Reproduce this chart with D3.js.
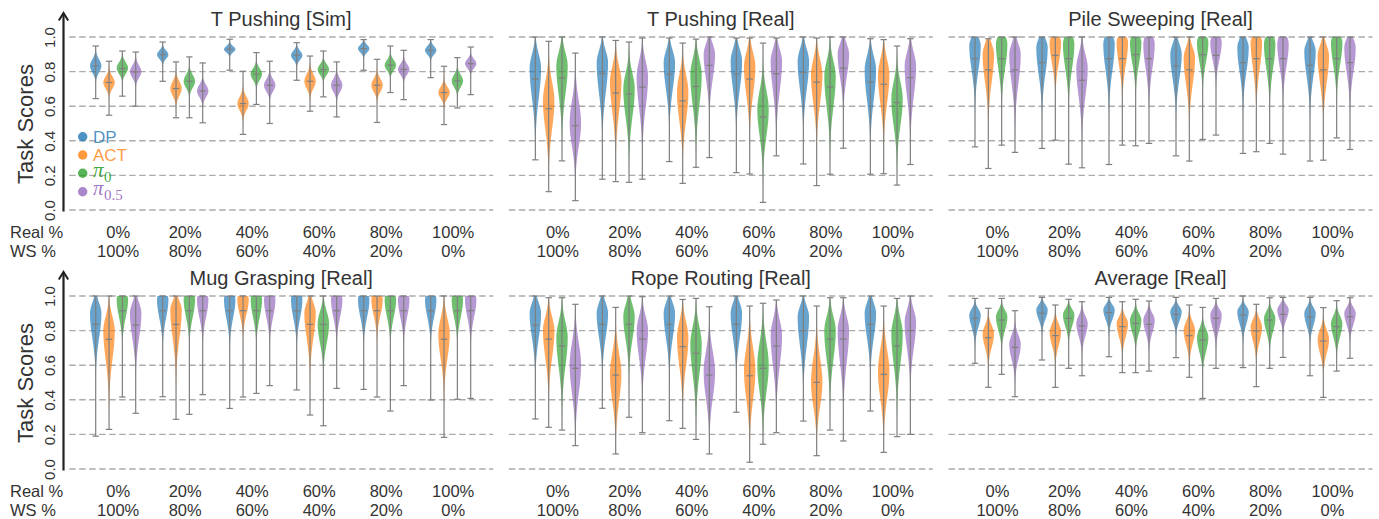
<!DOCTYPE html>
<html><head><meta charset="utf-8">
<script src="https://cdn.jsdelivr.net/npm/d3@7"></script>
<style>body{margin:0;background:#fff}svg{display:block}</style>
</head><body><svg id="c" width="1379" height="519"></svg>
<script>
// ---- categories / labels ----
const realPct = ["0%","20%","40%","60%","80%","100%"];
const wsPct = ["100%","80%","60%","40%","20%","0%"];
const methods = ["DP","ACT","pi0","pi05"];
const colors = ["#1f77b4","#ff7f0e","#2ca02c","#9467bd"];
const yTicks = [0,0.2,0.4,0.6,0.8,1.0];
const titles = ["T Pushing [Sim]","T Pushing [Real]","Pile Sweeping [Real]","Mug Grasping [Real]","Rope Routing [Real]","Average [Real]"];
// each entry: [min, max, mean, mode, spreadLow, spreadHigh]
const simDP = [[0.644,0.948,0.833,0.833,0.037,0.037],[0.744,0.971,0.898,0.898,0.024,0.024],[0.808,0.987,0.929,0.929,0.018,0.018],[0.75,0.967,0.894,0.894,0.026,0.026],[0.808,0.985,0.933,0.933,0.022,0.022],[0.765,0.985,0.923,0.923,0.024,0.024]];
const simACT = [[0.548,0.86,0.737,0.737,0.035,0.035],[0.533,0.856,0.702,0.702,0.041,0.041],[0.437,0.802,0.615,0.615,0.039,0.039],[0.571,0.89,0.744,0.744,0.041,0.041],[0.506,0.871,0.721,0.721,0.037,0.037],[0.494,0.831,0.679,0.679,0.033,0.033]];
const simPi0 = [[0.658,0.919,0.817,0.82,0.033,0.033],[0.533,0.885,0.744,0.744,0.037,0.037],[0.61,0.91,0.785,0.785,0.033,0.033],[0.654,0.919,0.812,0.812,0.03,0.03],[0.679,0.948,0.837,0.837,0.03,0.03],[0.59,0.881,0.746,0.746,0.035,0.035]];
const simPi05 = [[0.6,0.913,0.798,0.8,0.035,0.035],[0.504,0.85,0.688,0.688,0.035,0.035],[0.5,0.86,0.721,0.721,0.035,0.035],[0.538,0.856,0.721,0.721,0.037,0.037],[0.638,0.923,0.813,0.813,0.03,0.03],[0.667,0.942,0.846,0.846,0.026,0.026]];

const tpDP = [[0.29,1.0,0.757,0.82,0.17,0.08],[0.178,1.0,0.788,0.85,0.17,0.07],[0.28,0.994,0.786,0.85,0.15,0.07],[0.216,0.994,0.786,0.86,0.16,0.07],[0.266,1.0,0.795,0.86,0.16,0.07],[0.207,0.99,0.739,0.81,0.17,0.08]];
const tpACT = [[0.106,0.975,0.585,0.63,0.16,0.11],[0.164,0.98,0.676,0.74,0.17,0.09],[0.154,0.965,0.631,0.68,0.16,0.1],[0.208,0.994,0.757,0.83,0.16,0.08],[0.141,0.994,0.739,0.78,0.16,0.09],[0.21,0.985,0.727,0.78,0.16,0.09]];
const tpPi0 = [[0.284,1.0,0.763,0.83,0.16,0.08],[0.16,0.971,0.67,0.7,0.16,0.09],[0.247,0.988,0.714,0.78,0.17,0.09],[0.044,0.965,0.537,0.58,0.15,0.11],[0.207,1.0,0.71,0.77,0.17,0.09],[0.144,0.948,0.621,0.64,0.15,0.1]];
const tpPi05 = [[0.054,0.907,0.488,0.5,0.13,0.13],[0.178,0.994,0.71,0.77,0.17,0.09],[0.303,1.0,0.836,0.9,0.14,0.06],[0.313,0.994,0.788,0.86,0.17,0.07],[0.357,1.0,0.82,0.9,0.13,0.06],[0.263,0.99,0.765,0.83,0.17,0.08]];

const pileDP = [[0.365,1.0,0.875,0.95,0.14,0.05],[0.356,1.0,0.852,0.94,0.15,0.05],[0.263,1.0,0.875,0.96,0.15,0.05],[0.313,1.0,0.833,0.9,0.14,0.06],[0.327,1.0,0.852,0.94,0.14,0.05],[0.283,1.0,0.837,0.92,0.145,0.05]];
const pileACT = [[0.24,0.99,0.81,0.9,0.155,0.06],[0.404,1.0,0.894,0.97,0.12,0.04],[0.375,1.0,0.875,0.97,0.13,0.04],[0.283,1.0,0.81,0.88,0.15,0.06],[0.337,1.0,0.875,0.97,0.15,0.04],[0.288,1.0,0.81,0.89,0.15,0.06]];
const pilePi0 = [[0.375,1.0,0.875,0.96,0.14,0.05],[0.265,1.0,0.875,0.96,0.14,0.05],[0.371,1.0,0.898,0.97,0.12,0.04],[0.408,1.0,0.898,0.97,0.11,0.04],[0.385,1.0,0.875,0.96,0.14,0.05],[0.417,1.0,0.875,0.97,0.13,0.04]];
const pilePi05 = [[0.333,1.0,0.81,0.9,0.165,0.06],[0.244,1.0,0.75,0.82,0.16,0.08],[0.385,1.0,0.875,0.96,0.14,0.05],[0.433,1.0,0.894,0.97,0.1,0.04],[0.323,1.0,0.875,0.96,0.13,0.05],[0.35,1.0,0.852,0.94,0.14,0.05]];

const mugDP = [[0.19,1.0,0.836,0.9,0.14,0.06],[0.418,1.0,0.915,0.98,0.105,0.04],[0.35,1.0,0.915,0.98,0.105,0.04],[0.457,1.0,0.915,0.98,0.105,0.04],[0.46,1.0,0.915,0.98,0.1,0.04],[0.399,1.0,0.915,0.98,0.1,0.04]];
const mugACT = [[0.229,1.0,0.75,0.8,0.165,0.08],[0.287,1.0,0.836,0.92,0.16,0.05],[0.416,1.0,0.915,0.98,0.085,0.04],[0.312,1.0,0.836,0.9,0.14,0.06],[0.416,1.0,0.915,0.98,0.09,0.04],[0.183,1.0,0.75,0.78,0.14,0.09]];
const mugPi0 = [[0.416,1.0,0.915,0.98,0.1,0.04],[0.316,1.0,0.915,0.98,0.1,0.04],[0.437,1.0,0.915,0.98,0.1,0.04],[0.25,1.0,0.836,0.84,0.11,0.07],[0.335,1.0,0.915,0.98,0.1,0.04],[0.403,1.0,0.915,0.98,0.1,0.04]];
const mugPi05 = [[0.322,1.0,0.832,0.9,0.14,0.06],[0.43,1.0,0.915,0.98,0.1,0.04],[0.482,1.0,0.915,0.98,0.1,0.04],[0.466,1.0,0.915,0.98,0.1,0.04],[0.482,1.0,0.915,0.98,0.1,0.04],[0.408,1.0,0.915,0.98,0.1,0.04]];

const ropeDP = [[0.289,1.0,0.832,0.9,0.14,0.06],[0.351,1.0,0.836,0.9,0.135,0.06],[0.279,1.0,0.836,0.9,0.14,0.06],[0.328,1.0,0.836,0.9,0.14,0.06],[0.277,1.0,0.8,0.88,0.165,0.06],[0.335,1.0,0.836,0.9,0.14,0.06]];
const ropeACT = [[0.241,0.99,0.751,0.8,0.155,0.08],[0.087,0.934,0.543,0.55,0.155,0.12],[0.235,0.98,0.707,0.76,0.16,0.09],[0.039,0.942,0.539,0.57,0.165,0.13],[0.077,0.942,0.501,0.5,0.135,0.14],[0.096,0.942,0.547,0.56,0.15,0.13]];
const ropePi0 = [[0.225,0.99,0.711,0.76,0.165,0.09],[0.299,1.0,0.836,0.88,0.13,0.07],[0.171,0.986,0.669,0.72,0.17,0.1],[0.143,0.958,0.582,0.6,0.155,0.13],[0.225,0.99,0.751,0.8,0.165,0.08],[0.187,0.986,0.711,0.78,0.17,0.09]];
const ropePi05 = [[0.135,0.952,0.582,0.6,0.16,0.13],[0.21,0.996,0.751,0.8,0.15,0.08],[0.087,0.938,0.543,0.56,0.15,0.12],[0.21,0.977,0.711,0.77,0.17,0.09],[0.162,0.99,0.751,0.8,0.18,0.08],[0.2,1.0,0.8,0.85,0.15,0.07]];

const avgDP = [[0.611,0.986,0.871,0.89,0.07,0.035],[0.63,0.992,0.9,0.92,0.055,0.03],[0.649,0.992,0.904,0.92,0.055,0.03],[0.644,0.992,0.894,0.91,0.055,0.03],[0.586,1.0,0.89,0.91,0.07,0.03],[0.539,0.992,0.88,0.9,0.07,0.035]];
const avgACT = [[0.472,0.929,0.759,0.78,0.075,0.05],[0.472,0.948,0.771,0.79,0.075,0.05],[0.557,0.967,0.823,0.84,0.075,0.04],[0.53,0.948,0.771,0.8,0.075,0.05],[0.476,0.952,0.798,0.82,0.08,0.045],[0.414,0.933,0.74,0.75,0.08,0.055]];
const avgPi0 = [[0.547,0.986,0.861,0.88,0.075,0.038],[0.582,0.981,0.871,0.89,0.065,0.035],[0.557,0.981,0.842,0.86,0.07,0.04],[0.408,0.934,0.746,0.76,0.08,0.05],[0.582,0.99,0.861,0.87,0.075,0.04],[0.566,0.973,0.823,0.84,0.075,0.045]];
const avgPi05 = [[0.418,0.915,0.703,0.72,0.085,0.055],[0.539,0.967,0.827,0.84,0.07,0.045],[0.566,0.971,0.836,0.86,0.07,0.04],[0.582,0.986,0.871,0.89,0.075,0.035],[0.645,0.992,0.894,0.92,0.055,0.03],[0.64,0.99,0.88,0.9,0.065,0.035]];

const panelSeries = [
  [simDP, simACT, simPi0, simPi05],
  [tpDP, tpACT, tpPi0, tpPi05],
  [pileDP, pileACT, pilePi0, pilePi05],
  [mugDP, mugACT, mugPi0, mugPi05],
  [ropeDP, ropeACT, ropePi0, ropePi05],
  [avgDP, avgACT, avgPi0, avgPi05]
];

// ---- drawing ----
const svg = d3.select("#c");
const FONT = "'Liberation Sans', Arial, Helvetica, sans-serif";
const TXT = "#333";
const halfW = 5.7;

function shape(d) {
  const [mn, mx, mean, mode, sLo, sHi] = d;
  const pts = [];
  const n = 90;
  for (let i = 0; i <= n; i++) {
    const v = mn + (mx - mn) * i / n;
    const s = v < mode ? sLo : sHi;
    pts.push({v, w: Math.exp(-0.5 * Math.pow((v - mode) / s, 2))});
  }
  const m = d3.max(pts, p => p.w);
  pts.forEach(p => p.w /= m);
  return pts;
}

panelSeries.forEach((series, p) => {
  const row = Math.floor(p / 3), col = p % 3;
  const g0 = 115.7 + 439.65 * col;
  const x = d3.scaleLinear().domain([0, 5]).range([g0, g0 + 335]);
  const off = d3.scalePoint().domain(methods).range([-20, 20]);
  const y = d3.scaleLinear().domain([0, 1]).range([210 + 259 * row, 37 + 259 * row]);
  const gx0 = g0 - 46.5, gx1 = g0 + 377.5;
  const g = svg.append("g");

  // gridlines
  g.selectAll(".grid").data(yTicks).join("line")
    .attr("x1", gx0).attr("x2", gx1)
    .attr("y1", d => y(d)).attr("y2", d => y(d))
    .attr("stroke", "#ababab").attr("stroke-width", 1.4)
    .attr("stroke-dasharray", "6.5,3.5");

  // title
  g.append("text").attr("x", (gx0 + gx1) / 2).attr("y", 26 + 259 * row)
    .attr("text-anchor", "middle").attr("font-family", FONT).attr("font-size", 20)
    .attr("fill", TXT).text(titles[p]);

  // x labels
  const xl = g.append("g").attr("font-family", FONT).attr("font-size", 16.5).attr("fill", TXT).attr("text-anchor", "middle");
  xl.selectAll(".r").data(realPct).join("text")
    .attr("x", (d, i) => x(i) + 2.5).attr("y", 237.5 + 259 * row).text(d => d);
  xl.selectAll(".w").data(wsPct).join("text").attr("class", "w")
    .attr("x", (d, i) => x(i) + 2.5).attr("y", 257 + 259 * row).text(d => d);

  // violins
  series.forEach((arr, si) => {
    const color = colors[si];
    arr.forEach((d, gi) => {
      const cx = x(gi) + off(methods[si]);
      const pts = shape(d);
      const area = d3.area().y(q => y(q.v)).x0(q => cx - halfW * q.w).x1(q => cx + halfW * q.w).curve(d3.curveLinear);
      g.append("path").attr("d", area(pts)).attr("fill", color).attr("fill-opacity", 0.68);
      const lg = g.append("g").attr("stroke", "#7f7f7f").attr("stroke-width", 1.2);
      lg.append("line").attr("x1", cx).attr("x2", cx).attr("y1", y(d[0])).attr("y2", y(d[1]));
      [d[0], d[1], d[2]].forEach(v => {
        lg.append("line").attr("x1", cx - 3.2).attr("x2", cx + 3.2).attr("y1", y(v)).attr("y2", y(v));
      });
    });
  });

  if (col === 0) {
    // y axis with arrow
    const ax = 63.5;
    g.append("line").attr("x1", ax).attr("x2", ax).attr("y1", y(0) + 1.5).attr("y2", 14 + 259 * row)
      .attr("stroke", "#222").attr("stroke-width", 2.2);
    const ty = 13 + 259 * row;
    g.append("path").attr("d", `M${ax - 4.7},${ty + 7.5} L${ax},${ty} L${ax + 4.7},${ty + 7.5}`)
      .attr("fill", "none").attr("stroke", "#222").attr("stroke-width", 2).attr("stroke-linejoin", "miter");
    const yAxis = d3.axisLeft(y).tickValues(yTicks).tickFormat(d3.format(".1f")).tickSize(0);
    const ya = g.append("g").attr("transform", "translate(50,0)").call(yAxis);
    ya.select(".domain").remove();
    ya.selectAll("text").attr("x", 0).attr("dy", "0.36em").attr("text-anchor", "middle")
      .attr("transform", "rotate(-90)").attr("font-family", FONT).attr("font-size", 15).attr("fill", TXT);
    g.append("text").attr("transform", `translate(25.5,${124 + 259 * row}) rotate(-90)`)
      .attr("dy", "0.36em").attr("text-anchor", "middle").attr("font-family", FONT).attr("font-size", 22)
      .attr("fill", TXT).text("Task Scores");
    g.append("text").attr("x", 10).attr("y", 237.5 + 259 * row).attr("font-family", FONT).attr("font-size", 16.5).attr("fill", TXT).text("Real %");
    g.append("text").attr("x", 10).attr("y", 257 + 259 * row).attr("font-family", FONT).attr("font-size", 16.5).attr("fill", TXT).text("WS %");
  }

  if (p === 0) {
    // legend
    const ly = [136.7, 155, 173.3, 191.7];
    const lg = g.append("g");
    methods.forEach((m, i) => {
      lg.append("circle").attr("cx", 82.7).attr("cy", ly[i]).attr("r", 4.7).attr("fill", colors[i]).attr("fill-opacity", 0.8);
    });
    lg.append("text").attr("x", 93).attr("y", ly[0] + 6.2).attr("font-family", FONT).attr("font-size", 17)
      .attr("fill", colors[0]).attr("fill-opacity", 0.8).text("DP");
    lg.append("text").attr("x", 93).attr("y", ly[1] + 6.2).attr("font-family", FONT).attr("font-size", 17)
      .attr("fill", colors[1]).attr("fill-opacity", 0.8).text("ACT");
    const subs = ["0", "0.5"];
    [2, 3].forEach((k, j) => {
      const t = lg.append("text").attr("x", 93).attr("y", ly[k] + 3.5)
        .attr("font-family", "'Liberation Serif', 'DejaVu Serif', serif").attr("fill", colors[k]).attr("fill-opacity", 0.9);
      t.append("tspan").attr("font-size", 21).attr("font-style", "italic").text("π");
      t.append("tspan").attr("font-size", 15).attr("dx", 0.5).attr("dy", 5).text(subs[j]);
    });
  }
});
</script></body></html>
